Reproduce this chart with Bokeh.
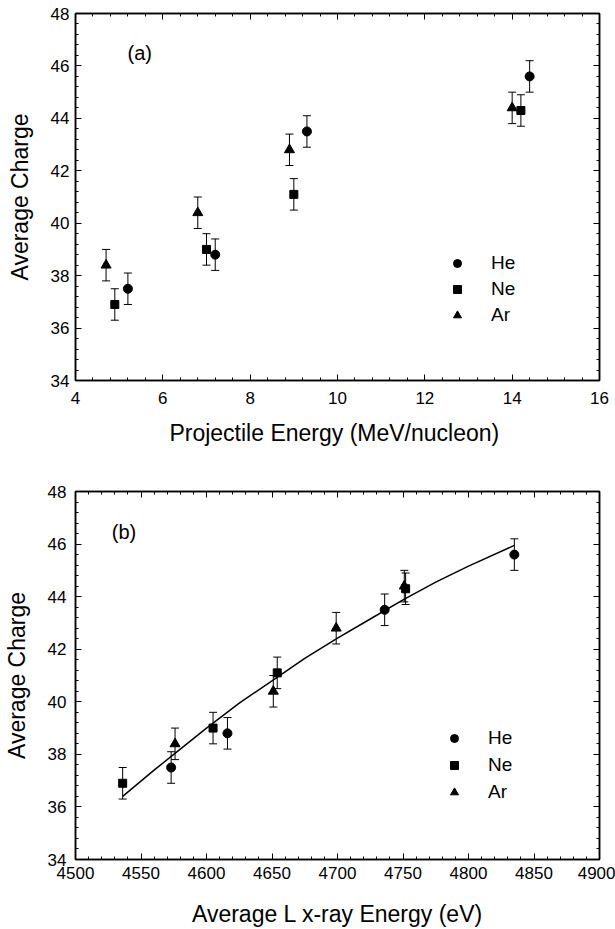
from bokeh.plotting import figure
from bokeh.models import (ColumnDataSource, Whisker, TeeHead, LinearAxis,
                          SingleIntervalTicker, Range1d, Legend, LegendItem, Label)
from bokeh.layouts import column
from bokeh.embed import file_html
from bokeh.resources import INLINE

FONT = "Liberation Sans"

# ---------------- data ----------------
species = ["He", "Ne", "Ar"]
markers = ["circle", "square", "triangle"]
marker_sizes = [9, 8, 10]

# projectile energy (MeV/nucleon)
he_energy = [5.2, 7.2, 9.3, 14.4]
ne_energy = [4.9, 7.0, 9.0, 14.2]
ar_energy = [4.7, 6.8, 8.9, 14.0]

# average charge
he_charge = [37.5, 38.8, 43.5, 45.6]
ne_charge = [36.9, 39.0, 41.1, 44.3]
ar_charge = [38.4, 40.4, 42.8, 44.4]

# charge uncertainty
he_err = [0.6, 0.6, 0.6, 0.6]
ne_err = [0.6, 0.6, 0.6, 0.6]
ar_err = [0.6, 0.6, 0.6, 0.6]

# average L x-ray energy (eV)
he_lx = [4573, 4616, 4736, 4835]
ne_lx = [4536, 4605, 4654, 4752]
ar_lx = [4576, 4651, 4699, 4751]

# fitted curve in panel (b)
fit_lx = [4536, 4560, 4580, 4600, 4625, 4650, 4675, 4700, 4725, 4750, 4775, 4800, 4835]
fit_charge = [36.40, 37.40, 38.20, 39.00, 39.95, 40.80, 41.65, 42.42, 43.15, 43.88, 44.55, 45.16, 45.95]

energy_sets = [he_energy, ne_energy, ar_energy]
lx_sets = [he_lx, ne_lx, ar_lx]
charge_sets = [he_charge, ne_charge, ar_charge]
err_sets = [he_err, ne_err, ar_err]


def style_axis(ax, labels=True, label_standoff=8):
    ax.axis_line_color = "black"
    ax.axis_line_width = 1.5
    ax.major_tick_in = 6
    ax.major_tick_out = 0
    ax.minor_tick_in = 3
    ax.minor_tick_out = 0
    ax.major_tick_line_color = "black"
    ax.minor_tick_line_color = "black"
    ax.major_tick_line_width = 1
    ax.minor_tick_line_width = 1
    ax.axis_label_text_font = FONT
    ax.axis_label_text_font_style = "normal"
    ax.axis_label_text_color = "black"
    ax.major_label_text_font = FONT
    if labels:
        ax.major_label_text_color = "black"
        ax.major_label_text_font_size = "17px"
        ax.major_label_standoff = label_standoff
        ax.axis_label_text_font_size = "23px"
    else:
        ax.major_label_text_color = None
        ax.major_label_text_alpha = 0
        ax.major_label_text_font_size = "1px"
        ax.major_label_standoff = 0
        ax.axis_label_standoff = 0


def make_panel(xsets, x_range, xticker_interval, height, borders, xlabel,
               panel_tag, tag_pos, legend_loc, legend_spacing,
               xstand, ystand, xtitle_stand, ytitle_stand, fit=None):
    left, right, top, bottom = borders
    p = figure(width=615, height=height, output_backend="svg",
               toolbar_location=None, x_range=Range1d(*x_range),
               y_range=Range1d(34, 48), x_axis_location=None,
               y_axis_location=None,
               min_border_left=left, min_border_right=right,
               min_border_top=top, min_border_bottom=bottom)
    p.grid.visible = False
    p.outline_line_color = "black"
    p.outline_line_width = 1.5
    p.background_fill_color = "white"
    p.border_fill_color = "white"

    xt = SingleIntervalTicker(interval=xticker_interval, num_minor_ticks=5)
    yt = SingleIntervalTicker(interval=2, num_minor_ticks=5)

    xb = LinearAxis(ticker=xt, axis_label=xlabel)
    style_axis(xb, True, xstand)
    xb.axis_label_standoff = xtitle_stand
    p.add_layout(xb, "below")
    yl = LinearAxis(ticker=yt, axis_label="Average Charge")
    style_axis(yl, True, ystand)
    yl.axis_label_standoff = ytitle_stand
    p.add_layout(yl, "left")
    xa = LinearAxis(ticker=xt)
    style_axis(xa, False)
    p.add_layout(xa, "above")
    yr = LinearAxis(ticker=yt)
    style_axis(yr, False)
    p.add_layout(yr, "right")

    if fit is not None:
        p.line(fit[0], fit[1], line_color="black", line_width=1.5)

    renderers = []
    for xs, q, e, m, s in zip(xsets, charge_sets, err_sets, markers, marker_sizes):
        src = ColumnDataSource(dict(x=xs, y=q,
                                    upper=[a + b for a, b in zip(q, e)],
                                    lower=[a - b for a, b in zip(q, e)]))
        w = Whisker(source=src, base="x", upper="upper", lower="lower",
                    line_color="black", line_width=1,
                    upper_head=TeeHead(size=8, line_color="black", line_width=1),
                    lower_head=TeeHead(size=8, line_color="black", line_width=1))
        p.add_layout(w)
        r = p.scatter("x", "y", source=src, marker=m, size=s,
                      fill_color="black", line_color="black")
        renderers.append(r)

    legend = Legend(items=[LegendItem(label=n, renderers=[r])
                           for n, r in zip(species, renderers)],
                    location=legend_loc, padding=0, margin=0,
                    spacing=legend_spacing, glyph_width=20, glyph_height=20,
                    label_height=20, label_standoff=24,
                    label_text_font=FONT, label_text_font_size="19px",
                    label_text_color="black",
                    border_line_color=None, background_fill_alpha=0)
    p.add_layout(legend)

    p.add_layout(Label(x=tag_pos[0], y=tag_pos[1], text=panel_tag,
                       text_align="center", text_baseline="middle",
                       text_font=FONT, text_font_size="20px",
                       text_color="black"))
    return p


pa = make_panel(energy_sets, (4, 16), 2, 465, (75, 13, 13, 85),
                "Projectile Energy  (MeV/nucleon)", "(a)", (5.47, 46.5),
                (372, 54), 4, 11, 6, 13, 15)
pb = make_panel(lx_sets, (4500, 4900), 50, 464, (73, 16, 26, 68),
                "Average L x-ray Energy (eV)", "(b)", (4537, 46.45),
                (369, 56), 5, 7, 9, 19, 15, fit=(fit_lx, fit_charge))

layout = column(pa, pb, spacing=0)
open("out.html", "w").write(file_html(layout, INLINE))
